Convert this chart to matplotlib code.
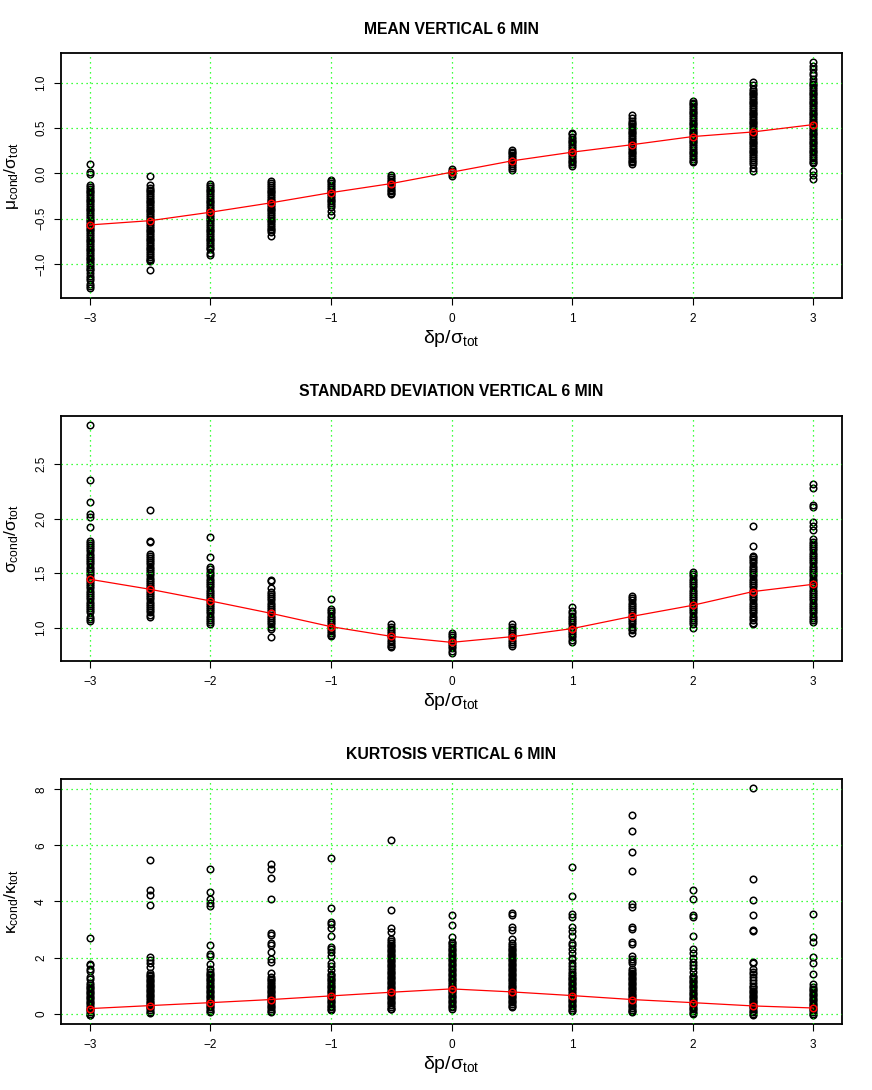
import matplotlib
matplotlib.use("Agg")
import matplotlib.pyplot as plt
from matplotlib.ticker import FuncFormatter

plt.rcParams['font.family'] = ['Liberation Sans', 'DejaVu Sans']
plt.rcParams['mathtext.fontset'] = 'custom'
plt.rcParams['mathtext.rm'] = 'Liberation Sans'
plt.rcParams['mathtext.it'] = 'Liberation Sans:italic'
plt.rcParams['mathtext.bf'] = 'Liberation Sans:bold'

# shift delta p / sigma_tot
dp = [-3, -2.5, -2, -1.5, -1, -0.5, 0, 0.5, 1, 1.5, 2, 2.5, 3]

# conditional mean / sigma_tot, one list per dp value
mean_pts = [
    [0.10, 0.01, -0.01, -0.13, -0.15, -0.17, -0.19, -0.21, -0.23, -0.25, -0.27, -0.29, -0.31, -0.33,
     -0.35, -0.37, -0.39, -0.41, -0.43, -0.45, -0.47, -0.49, -0.51, -0.53, -0.55, -0.57, -0.59, -0.61,
     -0.63, -0.65, -0.67, -0.69, -0.71, -0.73, -0.75, -0.77, -0.79, -0.81, -0.83, -0.85, -0.87, -0.89,
     -0.91, -0.93, -0.95, -0.97, -0.99, -1.01, -1.03, -1.05, -1.07, -1.10, -1.13, -1.15, -1.18, -1.22,
     -1.24, -1.27],
    [-0.03, -0.13, -0.16, -0.18, -0.20, -0.22, -0.24, -0.26, -0.28, -0.30, -0.32, -0.34, -0.36, -0.38,
     -0.40, -0.42, -0.44, -0.46, -0.48, -0.50, -0.52, -0.54, -0.56, -0.58, -0.60, -0.62, -0.64, -0.66,
     -0.68, -0.70, -0.72, -0.74, -0.76, -0.78, -0.80, -0.82, -0.84, -0.86, -0.88, -0.90, -0.92, -0.94,
     -0.96, -0.97, -1.07],
    [-0.12, -0.14, -0.16, -0.18, -0.20, -0.22, -0.24, -0.26, -0.28, -0.30, -0.32, -0.34, -0.36, -0.38,
     -0.40, -0.42, -0.44, -0.46, -0.48, -0.50, -0.52, -0.54, -0.56, -0.58, -0.60, -0.62, -0.64, -0.66,
     -0.68, -0.70, -0.72, -0.74, -0.76, -0.78, -0.80, -0.82, -0.84, -0.88, -0.90],
    [-0.09, -0.11, -0.13, -0.15, -0.17, -0.19, -0.21, -0.23, -0.25, -0.27, -0.29, -0.31, -0.33, -0.35,
     -0.37, -0.39, -0.41, -0.43, -0.45, -0.47, -0.49, -0.51, -0.53, -0.55, -0.57, -0.59, -0.61, -0.63,
     -0.65, -0.69],
    [-0.07, -0.09, -0.11, -0.13, -0.15, -0.17, -0.19, -0.21, -0.23, -0.25, -0.27, -0.29, -0.31, -0.33,
     -0.35, -0.37, -0.42, -0.46],
    [-0.02, -0.04, -0.06, -0.08, -0.10, -0.12, -0.14, -0.16, -0.18, -0.20, -0.22, -0.23],
    [0.05, 0.03, 0.01, -0.01, -0.03],
    [0.26, 0.24, 0.22, 0.20, 0.18, 0.16, 0.14, 0.12, 0.10, 0.08, 0.06, 0.04],
    [0.45, 0.43, 0.40, 0.38, 0.36, 0.34, 0.32, 0.30, 0.28, 0.26, 0.24, 0.22, 0.20, 0.18, 0.16, 0.14,
     0.12, 0.10, 0.08],
    [0.64, 0.61, 0.58, 0.56, 0.54, 0.52, 0.50, 0.48, 0.46, 0.44, 0.42, 0.40, 0.38, 0.36, 0.34, 0.32,
     0.30, 0.28, 0.26, 0.24, 0.22, 0.20, 0.18, 0.16, 0.14, 0.12, 0.10],
    [0.80, 0.78, 0.76, 0.74, 0.72, 0.70, 0.68, 0.66, 0.64, 0.62, 0.60, 0.58, 0.56, 0.54, 0.52, 0.50,
     0.48, 0.46, 0.44, 0.42, 0.40, 0.38, 0.36, 0.34, 0.32, 0.30, 0.28, 0.26, 0.24, 0.22, 0.20, 0.18,
     0.16, 0.14, 0.12],
    [1.01, 0.97, 0.93, 0.91, 0.89, 0.87, 0.85, 0.83, 0.81, 0.79, 0.77, 0.75, 0.73, 0.71, 0.69, 0.67,
     0.65, 0.63, 0.61, 0.59, 0.57, 0.55, 0.53, 0.51, 0.49, 0.47, 0.45, 0.43, 0.41, 0.39, 0.37, 0.35,
     0.33, 0.31, 0.29, 0.27, 0.25, 0.23, 0.21, 0.19, 0.17, 0.15, 0.13, 0.10, 0.06, 0.03],
    [1.23, 1.18, 1.15, 1.11, 1.08, 1.04, 1.01, 0.99, 0.97, 0.95, 0.93, 0.91, 0.89, 0.87, 0.85, 0.83,
     0.81, 0.79, 0.77, 0.75, 0.73, 0.71, 0.69, 0.67, 0.65, 0.63, 0.61, 0.59, 0.57, 0.55, 0.53, 0.51,
     0.49, 0.47, 0.45, 0.43, 0.41, 0.39, 0.37, 0.35, 0.33, 0.31, 0.29, 0.27, 0.25, 0.23, 0.21, 0.19,
     0.17, 0.15, 0.13, 0.11, 0.02, -0.02, -0.06],
]
mean_avg = [-0.569, -0.522, -0.429, -0.326, -0.213, -0.113, 0.012, 0.137, 0.233, 0.316, 0.405, 0.456, 0.537]

# conditional standard deviation / sigma_tot
std_pts = [
    [2.86, 2.36, 2.15, 2.04, 2.02, 1.92, 1.80, 1.78, 1.76, 1.74, 1.72, 1.70, 1.68, 1.66, 1.64, 1.62,
     1.60, 1.58, 1.56, 1.54, 1.52, 1.50, 1.48, 1.46, 1.44, 1.42, 1.40, 1.38, 1.36, 1.34, 1.32, 1.30,
     1.28, 1.26, 1.24, 1.22, 1.20, 1.18, 1.16, 1.14, 1.10, 1.08, 1.06],
    [2.08, 1.80, 1.79, 1.68, 1.66, 1.64, 1.62, 1.60, 1.58, 1.56, 1.54, 1.52, 1.50, 1.48, 1.46, 1.44,
     1.42, 1.40, 1.38, 1.36, 1.34, 1.32, 1.30, 1.28, 1.26, 1.24, 1.22, 1.20, 1.18, 1.16, 1.14, 1.12, 1.10],
    [1.83, 1.65, 1.56, 1.54, 1.51, 1.49, 1.47, 1.45, 1.43, 1.41, 1.39, 1.37, 1.35, 1.33, 1.31, 1.29,
     1.27, 1.25, 1.23, 1.21, 1.19, 1.17, 1.15, 1.13, 1.11, 1.09, 1.07, 1.05, 1.03],
    [1.44, 1.43, 1.36, 1.33, 1.31, 1.29, 1.27, 1.25, 1.23, 1.21, 1.19, 1.17, 1.15, 1.13, 1.11, 1.09,
     1.07, 1.05, 1.03, 1.01, 0.99, 0.91],
    [1.26, 1.17, 1.15, 1.13, 1.11, 1.09, 1.07, 1.05, 1.03, 1.01, 0.99, 0.97, 0.95, 0.93, 0.92],
    [1.03, 1.01, 0.99, 0.97, 0.95, 0.93, 0.91, 0.89, 0.87, 0.85, 0.83, 0.82],
    [0.95, 0.93, 0.91, 0.89, 0.87, 0.85, 0.83, 0.81, 0.79, 0.77],
    [1.03, 1.01, 0.99, 0.97, 0.95, 0.93, 0.91, 0.89, 0.87, 0.85, 0.83],
    [1.19, 1.15, 1.13, 1.11, 1.09, 1.07, 1.05, 1.03, 1.01, 0.99, 0.97, 0.95, 0.93, 0.91, 0.89, 0.87],
    [1.29, 1.27, 1.25, 1.23, 1.21, 1.19, 1.17, 1.15, 1.13, 1.11, 1.09, 1.07, 1.05, 1.03, 1.01, 0.99,
     0.98, 0.95],
    [1.51, 1.49, 1.47, 1.45, 1.43, 1.41, 1.39, 1.37, 1.35, 1.33, 1.31, 1.29, 1.27, 1.25, 1.23, 1.21,
     1.19, 1.17, 1.15, 1.13, 1.11, 1.09, 1.07, 1.05, 1.03, 1.00],
    [1.93, 1.75, 1.66, 1.65, 1.63, 1.61, 1.59, 1.57, 1.55, 1.53, 1.51, 1.49, 1.47, 1.45, 1.43, 1.41,
     1.39, 1.37, 1.35, 1.33, 1.31, 1.29, 1.27, 1.25, 1.23, 1.21, 1.19, 1.17, 1.15, 1.13, 1.11, 1.09,
     1.07, 1.04, 1.03],
    [2.32, 2.28, 2.13, 2.11, 1.97, 1.93, 1.90, 1.81, 1.79, 1.77, 1.75, 1.73, 1.71, 1.69, 1.67, 1.65,
     1.63, 1.61, 1.59, 1.57, 1.55, 1.53, 1.51, 1.49, 1.47, 1.45, 1.43, 1.41, 1.39, 1.37, 1.35, 1.33,
     1.31, 1.29, 1.27, 1.25, 1.23, 1.21, 1.19, 1.17, 1.15, 1.13, 1.11, 1.09, 1.07, 1.05],
]
std_avg = [1.444, 1.352, 1.245, 1.132, 1.009, 0.920, 0.865, 0.917, 0.991, 1.104, 1.205, 1.331, 1.398]

# conditional kurtosis / kurtosis_tot
kurt_pts = [
    [2.71, 1.78, 1.72, 1.58, 1.52, 1.32, 1.25, 1.10, 1.02, 0.96, 0.90, 0.84, 0.78, 0.72, 0.66, 0.60,
     0.54, 0.48, 0.42, 0.36, 0.30, 0.24, 0.18, 0.12, 0.06, 0.00, -0.04, -0.06],
    [5.47, 4.39, 4.23, 3.88, 2.03, 1.92, 1.82, 1.65, 1.45, 1.39, 1.33, 1.27, 1.21, 1.15, 1.09, 1.03,
     0.97, 0.91, 0.85, 0.79, 0.73, 0.67, 0.61, 0.55, 0.49, 0.43, 0.37, 0.31, 0.25, 0.19, 0.13, 0.07, 0.02],
    [5.14, 4.33, 4.10, 3.95, 3.82, 2.44, 2.12, 2.05, 1.77, 1.60, 1.48, 1.42, 1.36, 1.30, 1.24, 1.18,
     1.12, 1.06, 1.00, 0.94, 0.88, 0.82, 0.76, 0.70, 0.64, 0.58, 0.52, 0.46, 0.40, 0.34, 0.28, 0.22,
     0.16, 0.10, 0.05],
    [5.34, 5.17, 4.82, 4.08, 2.87, 2.82, 2.50, 2.43, 2.20, 1.95, 1.85, 1.45, 1.30, 1.24, 1.18, 1.12,
     1.06, 1.00, 0.94, 0.88, 0.82, 0.76, 0.70, 0.64, 0.58, 0.52, 0.46, 0.40, 0.34, 0.28, 0.22, 0.16,
     0.10, 0.05],
    [5.54, 3.77, 3.28, 3.18, 3.05, 2.77, 2.38, 2.30, 2.20, 2.05, 1.80, 1.70, 1.55, 1.42, 1.36, 1.30,
     1.24, 1.18, 1.12, 1.06, 1.00, 0.94, 0.88, 0.82, 0.76, 0.70, 0.64, 0.58, 0.52, 0.46, 0.40, 0.34,
     0.28, 0.22, 0.16, 0.12],
    [6.18, 3.70, 3.07, 2.90, 2.65, 2.58, 2.52, 2.46, 2.40, 2.34, 2.28, 2.22, 2.16, 2.10, 2.04, 1.98,
     1.92, 1.86, 1.80, 1.74, 1.68, 1.62, 1.56, 1.50, 1.44, 1.38, 1.32, 1.26, 1.20, 1.14, 1.08, 1.02,
     0.96, 0.90, 0.84, 0.78, 0.72, 0.66, 0.60, 0.54, 0.48, 0.42, 0.36, 0.30, 0.24, 0.18, 0.15],
    [3.50, 3.17, 2.73, 2.56, 2.50, 2.44, 2.38, 2.32, 2.26, 2.20, 2.14, 2.08, 2.02, 1.96, 1.90, 1.84,
     1.78, 1.72, 1.66, 1.60, 1.54, 1.48, 1.42, 1.36, 1.30, 1.24, 1.18, 1.12, 1.06, 1.00, 0.94, 0.88,
     0.82, 0.76, 0.70, 0.64, 0.58, 0.52, 0.46, 0.40, 0.34, 0.28, 0.22, 0.16],
    [3.59, 3.50, 3.09, 2.97, 2.65, 2.50, 2.44, 2.38, 2.32, 2.26, 2.20, 2.14, 2.08, 2.02, 1.96, 1.90,
     1.84, 1.78, 1.72, 1.66, 1.60, 1.54, 1.48, 1.42, 1.36, 1.30, 1.24, 1.18, 1.12, 1.06, 1.00, 0.94,
     0.88, 0.82, 0.76, 0.70, 0.64, 0.58, 0.52, 0.46, 0.40, 0.34, 0.28, 0.25],
    [5.22, 4.20, 3.55, 3.45, 3.10, 2.95, 2.75, 2.50, 2.43, 2.30, 2.15, 2.00, 1.95, 1.80, 1.70, 1.60,
     1.50, 1.40, 1.34, 1.28, 1.22, 1.16, 1.10, 1.04, 0.98, 0.92, 0.86, 0.80, 0.74, 0.68, 0.62, 0.56,
     0.50, 0.44, 0.38, 0.32, 0.26, 0.20, 0.14, 0.10],
    [7.07, 6.50, 5.75, 5.10, 3.90, 3.80, 3.10, 3.00, 2.55, 2.48, 2.05, 1.95, 1.88, 1.80, 1.60, 1.52,
     1.46, 1.40, 1.34, 1.28, 1.22, 1.16, 1.10, 1.04, 0.98, 0.92, 0.86, 0.80, 0.74, 0.68, 0.62, 0.56,
     0.50, 0.44, 0.38, 0.32, 0.26, 0.20, 0.14, 0.08, 0.05],
    [4.41, 4.09, 3.50, 3.44, 2.77, 2.32, 2.15, 2.00, 1.85, 1.75, 1.62, 1.50, 1.35, 1.29, 1.23, 1.17,
     1.11, 1.05, 0.99, 0.93, 0.87, 0.81, 0.75, 0.69, 0.63, 0.57, 0.51, 0.45, 0.39, 0.33, 0.27, 0.21,
     0.15, 0.09, 0.03, 0.00],
    [8.03, 4.79, 4.06, 3.50, 2.98, 2.95, 1.85, 1.80, 1.60, 1.50, 1.40, 1.30, 1.20, 1.10, 1.00, 0.94,
     0.88, 0.82, 0.76, 0.70, 0.64, 0.58, 0.52, 0.46, 0.40, 0.34, 0.28, 0.22, 0.16, 0.10, 0.04, -0.02,
     -0.05],
    [3.54, 2.73, 2.55, 2.02, 1.80, 1.40, 1.05, 0.95, 0.89, 0.83, 0.77, 0.71, 0.65, 0.59, 0.53, 0.47,
     0.41, 0.35, 0.29, 0.23, 0.17, 0.11, 0.05, 0.00, -0.05],
]
kurt_avg = [0.178, 0.285, 0.390, 0.500, 0.630, 0.761, 0.880, 0.773, 0.642, 0.500, 0.390, 0.273, 0.200]

titles = ["MEAN VERTICAL 6 MIN", "STANDARD DEVIATION VERTICAL 6 MIN", "KURTOSIS VERTICAL 6 MIN"]
ylabels = [r'$\mathrm{\mu_{cond}/\sigma_{tot}}$', r'$\mathrm{\sigma_{cond}/\sigma_{tot}}$',
           r'$\mathrm{\kappa_{cond}/\kappa_{tot}}$']
yticks = [[-1.0, -0.5, 0.0, 0.5, 1.0], [1.0, 1.5, 2.0, 2.5], [0, 2, 4, 6, 8]]
ylims = [(-1.375, 1.327), (0.694, 2.944), (-0.37, 8.37)]
yfmt = ['%.1f', '%.1f', '%d']

fig = plt.figure(figsize=(8.72, 10.9), dpi=100)
bottoms = [0.7266, 0.3936, 0.0606]

for i, (pts, avg) in enumerate([(mean_pts, mean_avg), (std_pts, std_avg), (kurt_pts, kurt_avg)]):
    ax = fig.add_axes([0.070, bottoms[i], 0.8956, 0.2248])
    for x, col in zip(dp, pts):
        ax.plot([x] * len(col), col, 'o', mfc='none', mec='black', ms=4.7, mew=1.1, zorder=1)
    ax.plot(dp, avg, '-', color='red', lw=0.9, zorder=3)
    ax.plot(dp, avg, 'o', mfc='none', mec='red', ms=4.7, mew=1.1, zorder=4)

    ax.set_xlim(-3.24, 3.24)
    ax.set_ylim(*ylims[i])
    ax.set_xticks([-3, -2, -1, 0, 1, 2, 3])
    ax.set_yticks(yticks[i])
    f = yfmt[i]
    ax.yaxis.set_major_formatter(FuncFormatter(lambda v, p, f=f: (f % v).replace('-', '\u2212')))
    ax.xaxis.set_major_formatter(FuncFormatter(lambda v, p: ('%d' % v).replace('-', '\u2212')))
    for lab in ax.get_yticklabels():
        lab.set_rotation(90)
        lab.set_va('center')
    ax.tick_params(direction='out', length=5, width=0.8, labelsize=8.5)
    ax.tick_params(axis='y', pad=5)
    ax.tick_params(axis='x', pad=6)

    ax.grid(True, color='#00ff00', linestyle=(0, (1, 3)), lw=0.9)
    ax.set_axisbelow(False)
    for s in ax.spines.values():
        s.set_linewidth(1.3)

    ax.set_title(titles[i], fontsize=11.3, fontweight='bold', pad=14)
    ax.set_xlabel(r'$\mathrm{\delta p/\sigma_{tot}}$', fontsize=14, labelpad=2)
    ax.set_ylabel(ylabels[i], fontsize=12.5)
    ax.yaxis.set_label_coords(-0.051, 0.5)

fig.savefig("out.png", dpi=100)
